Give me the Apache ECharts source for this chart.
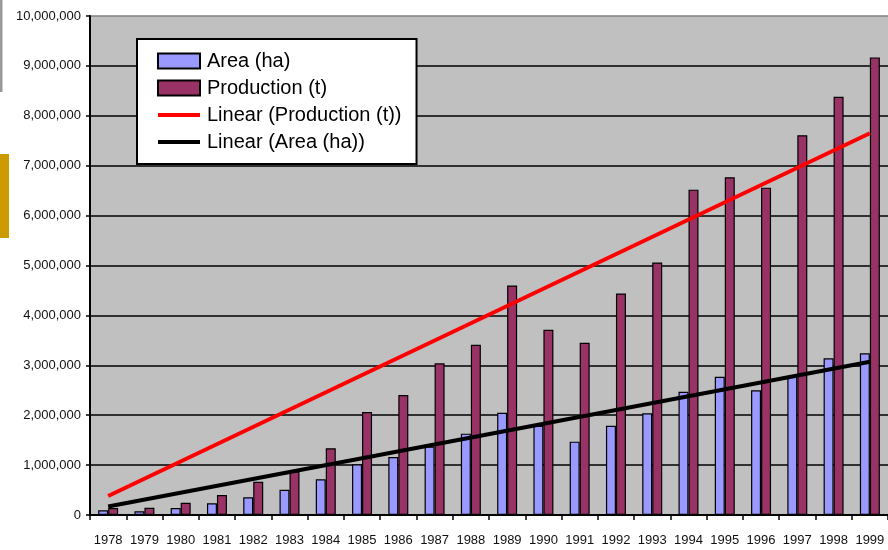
<!DOCTYPE html>
<html>
<head>
<meta charset="utf-8">
<script src="https://cdn.jsdelivr.net/npm/echarts@6/dist/echarts.min.js"></script>
<style>
html,body{margin:0;padding:0;background:#fff;}
#chart{width:888px;height:550px;}
</style>
</head>
<body>
<div id="chart"></div>
<script>
var years = ['1978','1979','1980','1981','1982','1983','1984','1985','1986','1987','1988','1989','1990','1991','1992','1993','1994','1995','1996','1997','1998','1999'];
var areaHa = [94000,74000,140000,234000,354000,507000,715000,1016000,1160000,1370000,1630000,2050000,1790000,1470000,1790000,2040000,2470000,2770000,2500000,2790000,3140000,3240000];
var productionT = [140000,146000,246000,400000,667000,868000,1337000,2064000,2405000,3040000,3410000,4600000,3710000,3450000,4440000,5060000,6520000,6770000,6560000,7610000,8380000,9170000];
var trendProdYears = ['1978','1999'];
var trendProdValues = [380000, 7650000];
var trendAreaYears = ['1978','1999'];
var trendAreaValues = [170000, 3070000];
var yTicks = [0,1000000,2000000,3000000,4000000,5000000,6000000,7000000,8000000,9000000,10000000];
var seriesNames = ['Area (ha)','Production (t)','Linear (Production (t))','Linear (Area (ha))'];

function pairs(xs, ys){ return xs.map(function(x,i){ return [x, ys[i]]; }); }
function fmt(v){ return String(v).replace(/\B(?=(\d{3})+(?!\d))/g, ','); }

var splitColors = yTicks.map(function(t,i){ return i === yTicks.length-1 ? '#808080' : '#000000'; });
var lineIcon = 'path://M0,0L0,0M0,5.5L42,5.5L42,9.5L0,9.5ZM42,15L42,15';

var chart = echarts.init(document.getElementById('chart'), null, {renderer:'canvas'});
chart.setOption({
  animation:false,
  backgroundColor:'#ffffff',
  textStyle:{fontFamily:'Liberation Sans, Arial, sans-serif'},
  graphic:[
    {type:'rect', shape:{x:0,y:0,width:2.5,height:92}, style:{fill:'#9a9a9a'}},
    {type:'rect', shape:{x:0,y:154,width:9,height:84}, style:{fill:'#CC9900'}}
  ],
  grid:{left:90, right:0, top:16, bottom:35, show:true, backgroundColor:'#C0C0C0', borderWidth:0},
  legend:{
    orient:'vertical', left:137, top:39,
    backgroundColor:'#ffffff', borderColor:'#000', borderWidth:2,
    padding:[12,15,12,20],
    itemWidth:42, itemHeight:15, itemGap:7,
    textStyle:{fontSize:20, lineHeight:20, color:'#000', fontFamily:'Liberation Sans, Arial, sans-serif', padding:[0,0,0,2]},
    data:[
      {name:seriesNames[0], icon:'rect'},
      {name:seriesNames[1], icon:'rect'},
      {name:seriesNames[2], icon:lineIcon, itemStyle:{color:'#FF0000', borderWidth:0}},
      {name:seriesNames[3], icon:lineIcon, itemStyle:{color:'#000000', borderWidth:0}}
    ]
  },
  xAxis:{
    type:'category', data:years, boundaryGap:true,
    axisLine:{lineStyle:{color:'#000', width:2}},
    axisTick:{show:true, alignWithLabel:false, length:5, lineStyle:{color:'#000', width:1.5}},
    axisLabel:{color:'#111', fontSize:13, margin:19, interval:0},
    splitLine:{show:false}
  },
  yAxis:{
    type:'value', min:0, max:10000000, interval:1000000,
    axisLine:{show:true, lineStyle:{color:'#000', width:2}},
    axisTick:{show:true, length:4, lineStyle:{color:'#000', width:1.5}},
    axisLabel:{color:'#111', fontSize:13, margin:9, formatter:function(v){return fmt(v);}},
    splitLine:{show:true, lineStyle:{color:splitColors, width:1.6}}
  },
  series:[
    {name:seriesNames[0], type:'bar', data:areaHa, barWidth:10, barGap:'0%',
     itemStyle:{color:'#9999FF', borderColor:'#000', borderWidth:1.2}},
    {name:seriesNames[1], type:'bar', data:productionT, barWidth:10, barGap:'0%',
     itemStyle:{color:'#993366', borderColor:'#000', borderWidth:1.2}},
    {name:seriesNames[2], type:'line', data:pairs(trendProdYears, trendProdValues), symbol:'none',
     lineStyle:{color:'#FF0000', width:4}, itemStyle:{color:'#FF0000'}, z:5},
    {name:seriesNames[3], type:'line', data:pairs(trendAreaYears, trendAreaValues), symbol:'none',
     lineStyle:{color:'#000000', width:4}, itemStyle:{color:'#000000'}, z:5}
  ]
});
</script>
</body>
</html>
